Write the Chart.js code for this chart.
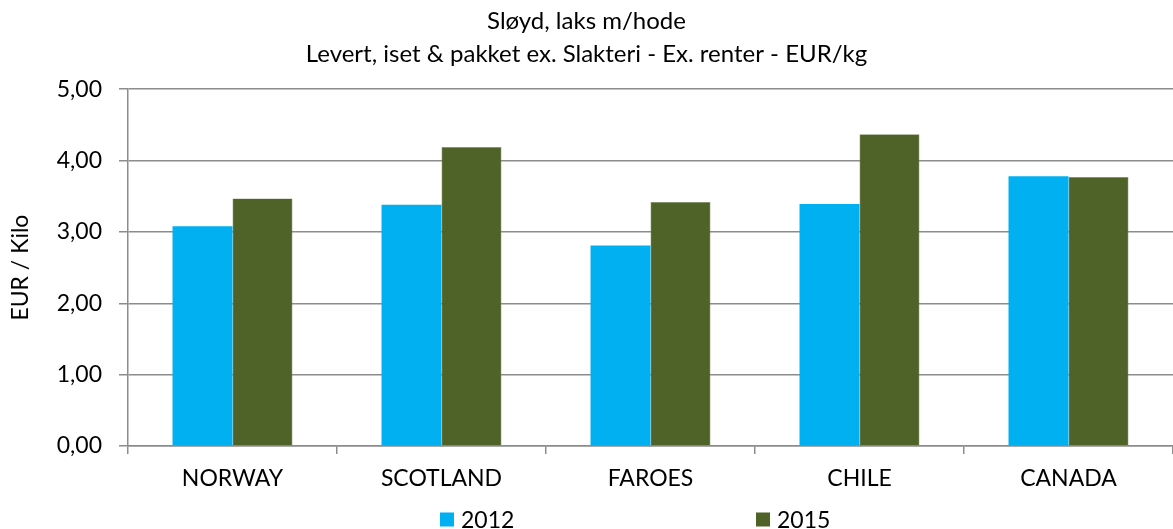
<!DOCTYPE html>
<html>
<head>
<meta charset="utf-8">
<script src="https://cdn.jsdelivr.net/npm/chart.js@4/dist/chart.umd.min.js"></script>
<style>
  html, body { margin: 0; padding: 0; background: #fff; }
  #wrap { width: 1173px; height: 529px; position: relative; }
</style>
</head>
<body>
<div id="wrap"><canvas id="chart"></canvas></div>
<script>
// --- DATA ---
const countries = ['NORWAY', 'SCOTLAND', 'FAROES', 'CHILE', 'CANADA'];
const values2012 = [3.08, 3.38, 2.81, 3.39, 3.78];
const values2015 = [3.47, 4.19, 3.42, 4.37, 3.77];
const titleLines = ['Sløyd, laks m/hode', 'Levert, iset & pakket ex. Slakteri - Ex. renter - EUR/kg'];

// --- STYLE ---
const FONT = "'Lato', 'Noto Sans', sans-serif";
const FONT_SIZE = 23;
const GRID = '#8c8c8c';
const LEGEND_X = [440, 756];   // left edge of each legend box
const LEGEND_Y = 519.5;        // vertical centre of the legend row

// Excel-style legend spread across the bottom
const spreadLegend = {
    id: 'spreadLegend',
    afterDraw(chart) {
        const c = chart.ctx;
        c.save();
        c.font = `${FONT_SIZE}px ${FONT}`;
        c.textBaseline = 'middle';
        chart.data.datasets.forEach((ds, i) => {
            const x = LEGEND_X[i];
            c.fillStyle = ds.backgroundColor;
            c.fillRect(x, LEGEND_Y - 7, 14, 14);
            c.fillStyle = '#000';
            c.fillText(ds.label, x + 21, LEGEND_Y + 1);
        });
        c.restore();
    }
};

const ctx = document.getElementById('chart').getContext('2d');
new Chart(ctx, {
    type: 'bar',
    data: {
        labels: countries,
        datasets: [
            {
                label: '2012',
                data: values2012,
                backgroundColor: '#00B0F0',
                borderWidth: 0,
                categoryPercentage: 0.574,
                barPercentage: 1.0
            },
            {
                label: '2015',
                data: values2015,
                backgroundColor: '#4F6228',
                borderColor: '#7d8c60',
                borderWidth: 0.6,
                categoryPercentage: 0.574,
                barPercentage: 1.0
            }
        ]
    },
    options: {
        responsive: true,
        maintainAspectRatio: false,
        animation: false,
        layout: { padding: { left: 0, right: 0, top: 0, bottom: 30 } },
        scales: {
            x: {
                offset: true,
                afterFit: scale => { scale.height = 53; },
                grid: {
                    offset: true,
                    drawOnChartArea: false,
                    drawTicks: true,
                    tickLength: 8,
                    color: GRID,
                    lineWidth: 1.5
                },
                border: { color: GRID, width: 1.5 },
                ticks: { color: '#000', font: { family: FONT, size: FONT_SIZE }, padding: 11 }
            },
            y: {
                min: 0,
                max: 5,
                afterFit: scale => { scale.width = 128; },
                ticks: {
                    stepSize: 1,
                    color: '#000',
                    font: { family: FONT, size: FONT_SIZE },
                    padding: 17,
                    callback: v => v.toFixed(2).replace('.', ',')
                },
                grid: { color: GRID, lineWidth: 1.5, tickLength: 9 },
                border: { color: GRID, width: 1.5 },
                title: {
                    display: true,
                    text: 'EUR / Kilo',
                    color: '#000',
                    font: { family: FONT, size: FONT_SIZE },
                    padding: { top: 7, bottom: 0 }
                }
            }
        },
        plugins: {
            title: {
                display: true,
                text: titleLines,
                color: '#000',
                font: { family: FONT, size: 24, weight: 'normal', lineHeight: 1.38 },
                padding: { top: 5, bottom: 18 }
            },
            legend: { display: false },
            tooltip: { enabled: false }
        }
    },
    plugins: [spreadLegend]
});
</script>
</body>
</html>
